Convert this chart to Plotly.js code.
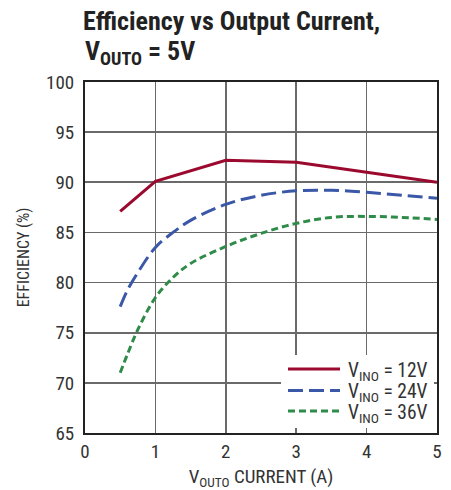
<!DOCTYPE html>
<html>
<head>
<meta charset="utf-8">
<script src="https://cdn.plot.ly/plotly-3.0.1.min.js"></script>
<style>html,body{margin:0;padding:0;background:#fff;}#chart{width:451px;height:490px;}</style>
</head>
<body>
<div id="chart"></div>
<script>
const x12 = [0.5, 1, 2, 3, 4, 5];
const y12 = [87.1, 90.1, 92.2, 92.0, 91.0, 90.0];
const x24 = [0.5, 0.6, 0.75, 1, 1.25, 1.5, 2, 2.5, 3, 3.5, 4, 4.5, 5];
const y24 = [77.6, 79.2, 81.0, 83.5, 85.0, 86.2, 87.8, 88.7, 89.15, 89.2, 89.0, 88.7, 88.4];
const x36 = [0.5, 0.6, 0.75, 1, 1.25, 1.5, 2, 2.5, 3, 3.5, 4, 4.5, 5];
const y36 = [71.0, 72.8, 75.3, 78.5, 80.5, 81.9, 83.6, 84.9, 85.9, 86.5, 86.6, 86.5, 86.3];
const names = ['V<sub>INO</sub> = 12V', 'V<sub>INO</sub> = 24V', 'V<sub>INO</sub> = 36V'];
const xTicks = [0, 1, 2, 3, 4, 5];
const yTicks = [65, 70, 75, 80, 85, 90, 95, 100];

const font = 'Liberation Sans Narrow, Roboto Condensed, Arial Narrow, Liberation Sans, sans-serif';
const colors = ['#9b0a2e', '#3a57a8', '#2e8b48'];
const dashes = ['solid', '15px,6px', '7px,4px'];

const traces = [
  {x: x12, y: y12, name: names[0], mode: 'lines', line: {color: colors[0], width: 3}},
  {x: x24, y: y24, name: names[1], mode: 'lines', line: {color: colors[1], width: 3, dash: dashes[1], shape: 'spline'}},
  {x: x36, y: y36, name: names[2], mode: 'lines', line: {color: colors[2], width: 3, dash: dashes[2], shape: 'spline'}}
];

// plot area in pixels: left 85, right 437, top 82, bottom 433
const L = 85, T = 82, W = 352, H = 351;
const px = v => (v - L) / W;
const py = v => (T + H - v) / H;

const shapes = [
  {type: 'rect', xref: 'paper', yref: 'paper', x0: px(281), x1: px(434), y0: py(428), y1: py(355),
   fillcolor: '#fff', line: {width: 0}, layer: 'above'}
];
const annotations = [
  {text: '<b>V<sub>OUTO</sub> = 5V</b>', xref: 'paper', yref: 'paper', x: px(83), xanchor: 'left',
   y: py(52), yanchor: 'middle', showarrow: false, font: {family: font, size: 26, color: '#222'}}
];
const rowY = [369, 390.5, 411];
names.forEach((n, i) => {
  shapes.push({type: 'line', xref: 'paper', yref: 'paper', x0: px(288), x1: px(340), y0: py(rowY[i]), y1: py(rowY[i]),
    line: {color: colors[i], width: 3, dash: dashes[i]}, layer: 'above'});
  annotations.push({text: n, xref: 'paper', yref: 'paper', x: px(346), xanchor: 'left', y: py(rowY[i] + 2), yanchor: 'middle',
    showarrow: false, font: {family: font, size: 19.5, color: '#333'}});
});

const layout = {
  width: 451, height: 490,
  margin: {l: 85, r: 14, t: 82, b: 57},
  paper_bgcolor: '#fff', plot_bgcolor: '#fff',
  font: {family: font, color: '#222', size: 18},
  title: {
    text: '<b>Efficiency vs Output Current,</b>',
    font: {family: font, size: 26, color: '#222'},
    xref: 'container', yref: 'container', x: 83/451, xanchor: 'left', y: 1 - 21/490, yanchor: 'middle'
  },
  xaxis: {
    range: [0, 5], tickvals: xTicks, ticktext: xTicks.map(String),
    showgrid: true, gridcolor: '#6a6a6a', gridwidth: 1.6,
    showline: true, linecolor: '#222', linewidth: 2, mirror: true,
    ticks: '', zeroline: false, tickfont: {size: 19, color: '#333'},
    title: {text: 'V<sub>OUTO</sub> CURRENT (A)', font: {size: 19, color: '#333'}, standoff: 9}
  },
  yaxis: {
    range: [65, 100], tickvals: yTicks, ticktext: yTicks.map(String),
    showgrid: true, gridcolor: '#6a6a6a', gridwidth: 1.6,
    showline: true, linecolor: '#222', linewidth: 2, mirror: true,
    ticks: '', zeroline: false, tickfont: {size: 19, color: '#333'}, ticklabelstandoff: 5,
    title: {text: 'EFFICIENCY (%)', font: {size: 16, color: '#333'}, standoff: 12}
  },
  showlegend: false,
  shapes: shapes,
  annotations: annotations
};

Plotly.newPlot('chart', traces, layout, {displayModeBar: false, staticPlot: true});
</script>
</body>
</html>
